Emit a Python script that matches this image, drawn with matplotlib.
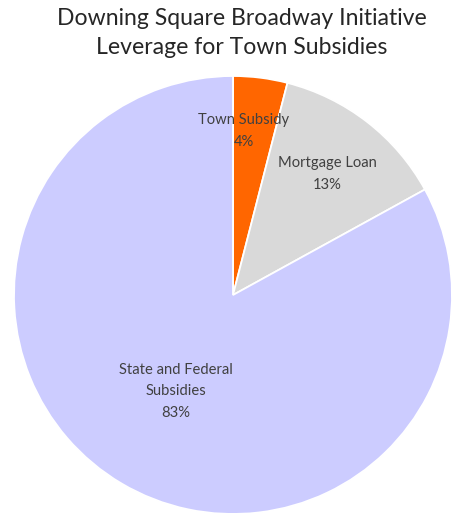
import matplotlib
matplotlib.use("Agg")
import matplotlib.pyplot as plt
import numpy as np

# Funding sources and their shares (%)
categories = ["Town Subsidy", "Mortgage Loan", "State and Federal\nSubsidies"]
shares = [4, 13, 83]
colors = ["#FF6600", "#D9D9D9", "#CCCCFF"]
title = "Downing Square Broadway Initiative\nLeverage for Town Subsidies"

plt.rcParams["font.family"] = ["Lato", "DejaVu Sans"]

fig = plt.figure(figsize=(4.58, 5.13), dpi=100)
fig.patch.set_facecolor("white")

W, H = 458, 513
cx, cy, r = 233, 295, 219
ax = fig.add_axes([(cx - r) / W, (H - cy - r) / H, 2 * r / W, 2 * r / H])

wedges, _ = ax.pie(shares, colors=colors, startangle=90, counterclock=False,
                   wedgeprops=dict(edgecolor="white", linewidth=1.3))
ax.set_xlim(-1, 1)
ax.set_ylim(-1, 1)
ax.set_aspect("equal")
ax.axis("off")

# Label placement: radial distance and a small tangential nudge per slice
label_dist = [0.755, 0.70, 0.51]
x_nudge = [-0.045, 0.0, 0.0]
for w, name, val, d, dx in zip(wedges, categories, shares, label_dist, x_nudge):
    ang = np.deg2rad((w.theta1 + w.theta2) / 2)
    x = d * np.cos(ang) + dx
    y = d * np.sin(ang)
    ax.text(x, y, f"{name}\n{val}%", ha="center", va="center",
            fontsize=10.6, color="#404040", linespacing=1.68)

fig.text(242 / W, 1 - 33 / H, title, ha="center", va="center",
         fontsize=16.6, color="#262626", linespacing=1.45)

fig.savefig("out.png", dpi=100)
